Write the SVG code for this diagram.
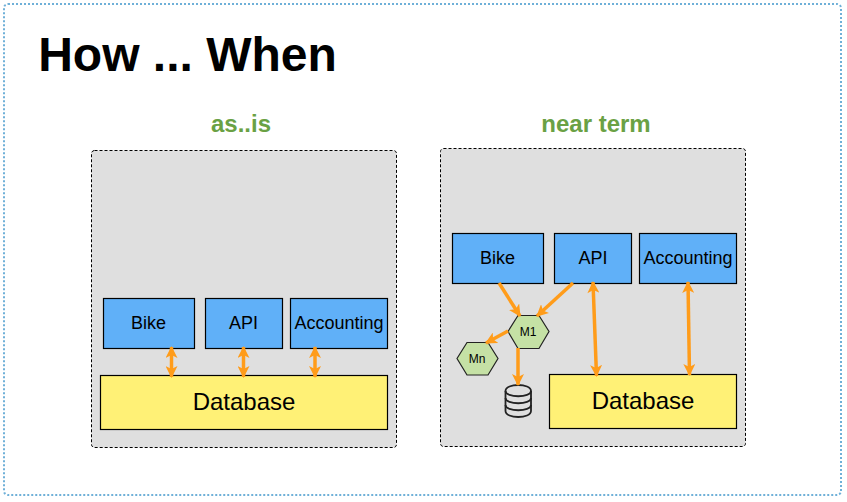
<svg xmlns="http://www.w3.org/2000/svg" width="847" height="502" viewBox="0 0 847 502">
<style>
text{font-family:"Liberation Sans",Arial,sans-serif;text-anchor:middle;fill:#000}
.g{fill:#dfdfdf;stroke:#000;stroke-width:1;stroke-dasharray:3 2}
.b{fill:#60b0f8;stroke:#000;stroke-width:1.2}
.y{fill:#fff176;stroke:#000;stroke-width:1.2}
.h{fill:#c5e1a5;stroke:#222;stroke-width:1.2}
.t{font-size:18px}
.d{font-size:24px}
.h2{font-size:24px;font-weight:bold;fill:#6aa144}
.c{stroke:#ff9c1a;stroke-width:3.500;fill:none;marker-end:url(#a)}
.c2{marker-start:url(#s)}
.db{fill:none;stroke:#222;stroke-width:1.800}
</style>
<defs>
<marker id="a" markerUnits="userSpaceOnUse" markerWidth="14" markerHeight="12" refX="11" refY="6" orient="auto"><path d="M0 0L12 6L0 12L3 6Z" fill="#ff9c1a"/></marker>
<marker id="s" markerUnits="userSpaceOnUse" markerWidth="14" markerHeight="12" refX="1" refY="6" orient="auto"><path d="M12 0L0 6L12 12L9 6Z" fill="#ff9c1a"/></marker>
</defs>
<rect x="4" y="4" width="837" height="491" rx="4" fill="#fff" stroke="#6fb0d8" stroke-width="2" stroke-dasharray="2 2"/>
<text x="187.500" y="71" style="font-size:48px;font-weight:bold">How ... When</text>
<text class="h2" x="241" y="132">as..is</text>
<text class="h2" x="596" y="132">near term</text>
<g id="panel-asis"><rect class="g" x="91.500" y="150.500" width="305" height="297" rx="3"/></g>
<g id="panel-near"><rect class="g" x="440.500" y="148.500" width="305" height="298" rx="3"/></g>
<g id="a-bike"><rect class="b" x="103.500" y="298.500" width="91" height="50"/><text class="t" x="148.500" y="329">Bike</text></g>
<g id="a-api"><rect class="b" x="205.500" y="298.500" width="77" height="50"/><text class="t" x="243.500" y="329">API</text></g>
<g id="a-acc"><rect class="b" x="290.500" y="298.500" width="97" height="50"/><text class="t" x="339" y="329">Accounting</text></g>
<g id="a-db"><rect class="y" x="100.500" y="375.500" width="287" height="54"/><text class="d" x="244" y="410">Database</text></g>
<g id="n-bike"><rect class="b" x="452.500" y="233.500" width="91" height="50"/><text class="t" x="497.500" y="264">Bike</text></g>
<g id="n-api"><rect class="b" x="554.500" y="233.500" width="77" height="50"/><text class="t" x="593" y="264">API</text></g>
<g id="n-acc"><rect class="b" x="639.500" y="233.500" width="97" height="50"/><text class="t" x="688" y="264">Accounting</text></g>
<g id="n-db"><rect class="y" x="549.500" y="374.500" width="187" height="54"/><text class="d" x="643" y="409">Database</text></g>
<g id="m1"><path class="h" d="M508 331.500L518 315.500H539L549 331.500L539 348.500H518Z"/><text x="528" y="335.500" style="font-size:12px">M1</text></g>
<g id="mn"><path class="h" d="M457 358.500L467 342.500H488L498 358.500L488 375H467Z"/><text x="477" y="362.500" style="font-size:12px">Mn</text></g>
<g id="db-icon">
<path class="db" d="M505.500 391C505.500 383 531 383 531 391V411C531 419 505.500 419 505.500 411Z"/>
<path class="db" d="M505.500 391C505.500 398 531 398 531 391M505.500 398C505.500 405 531 405 531 398M505.500 405C505.500 412 531 412 531 405"/>
</g>
<g id="connectors">
<path class="c c2" d="M171.500 347V377"/>
<path class="c c2" d="M243.500 347V377"/>
<path class="c c2" d="M315 347V377"/>
<path class="c" d="M499 283L520 316"/>
<path class="c" d="M573 283L537 316"/>
<path class="c" d="M508 331L486 343"/>
<path class="c" d="M518 348L518 385"/>
<path class="c c2" d="M593 282L596.500 376"/>
<path class="c c2" d="M688 282L689.500 375"/>
</g>
</svg>
